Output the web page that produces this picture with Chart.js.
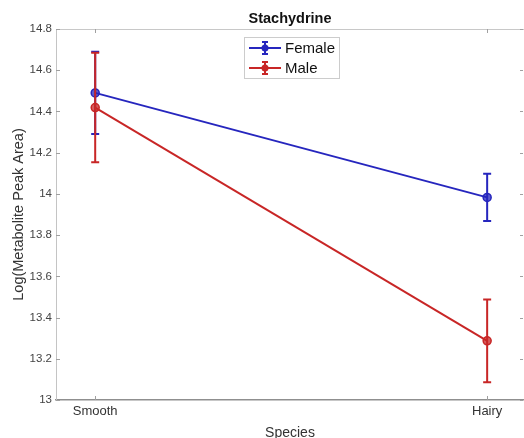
<!DOCTYPE html>
<html>
<head>
<meta charset="utf-8">
<script src="https://cdn.jsdelivr.net/npm/chart.js@4.4.0/dist/chart.umd.min.js"></script>
<style>
  html, body { margin: 0; padding: 0; background: #fff; }
  #wrap { width: 524px; height: 438px; }
</style>
</head>
<body>
<div id="wrap"><canvas id="chart" width="524" height="438"></canvas></div>
<script>
// data
const categories = ["Smooth", "Hairy"];
const catPos = [1, 2];
const femaleMean = [14.49, 13.983];
const femaleErr = [0.20, 0.115];
const maleMean = [14.419, 13.287];
const maleErr = [0.266, 0.201];
const yTicks = [13, 13.2, 13.4, 13.6, 13.8, 14, 14.2, 14.4, 14.6, 14.8];

const BLUE = "rgb(38,38,190)";
const RED = "rgb(200,38,38)";
const FONT = "'Liberation Sans', Arial, sans-serif";

function pts(means){
  return means.map((v, i) => ({x: catPos[i], y: v}));
}

const errPlugin = {
  id: "errbars",
  afterDatasetDraw(chart, args){
    const ds = chart.data.datasets[args.index];
    const ctx = chart.ctx, xs = chart.scales.x, ys = chart.scales.y;
    ctx.save();
    ctx.strokeStyle = ds.borderColor;
    ctx.lineWidth = 2;
    ds.data.forEach((p, i) => {
      const x = xs.getPixelForValue(p.x);
      const y1 = ys.getPixelForValue(p.y + ds.err[i]);
      const y2 = ys.getPixelForValue(p.y - ds.err[i]);
      ctx.beginPath();
      ctx.moveTo(x, y1); ctx.lineTo(x, y2);
      ctx.moveTo(x - 4, y1); ctx.lineTo(x + 4, y1);
      ctx.moveTo(x - 4, y2); ctx.lineTo(x + 4, y2);
      ctx.stroke();
    });
    ctx.restore();
  }
};

const framePlugin = {
  id: "frame",
  afterDraw(chart){
    const ctx = chart.ctx, a = chart.chartArea;
    const xs = chart.scales.x, ys = chart.scales.y;
    ctx.save();
    ctx.strokeStyle = "#c8c8c8";
    ctx.lineWidth = 1;
    ctx.beginPath();
    ctx.moveTo(a.left, a.top + 0.5); ctx.lineTo(a.right, a.top + 0.5);
    ctx.stroke();
    ctx.strokeStyle = "#a0a0a0";
    ctx.beginPath();
    yTicks.forEach(v => {
      const y = Math.round(ys.getPixelForValue(v)) + 0.5;
      ctx.moveTo(a.left, y); ctx.lineTo(a.left + 4, y);
      ctx.moveTo(a.right - 1, y); ctx.lineTo(a.right - 4, y);
    });
    catPos.forEach(v => {
      const x = Math.round(xs.getPixelForValue(v)) + 0.5;
      ctx.moveTo(x, a.bottom); ctx.lineTo(x, a.bottom - 4);
      ctx.moveTo(x, a.top); ctx.lineTo(x, a.top + 4);
    });
    ctx.stroke();

    // legend box
    const lx = 244, ly = 37, lw = 95, lh = 41;
    ctx.fillStyle = "#fff";
    ctx.fillRect(lx, ly, lw, lh);
    ctx.strokeStyle = "#cccccc";
    ctx.strokeRect(lx + 0.5, ly + 0.5, lw, lh);
    const items = [
      {label: "Female", color: BLUE, y: 48},
      {label: "Male", color: RED, y: 68}
    ];
    items.forEach(it => {
      ctx.strokeStyle = it.color;
      ctx.fillStyle = it.color;
      ctx.lineWidth = 2;
      ctx.beginPath();
      ctx.moveTo(249, it.y); ctx.lineTo(281, it.y);
      ctx.moveTo(265, it.y - 6); ctx.lineTo(265, it.y + 6);
      ctx.moveTo(262, it.y - 6); ctx.lineTo(268, it.y - 6);
      ctx.moveTo(262, it.y + 6); ctx.lineTo(268, it.y + 6);
      ctx.stroke();
      ctx.beginPath();
      ctx.arc(265, it.y, 3.5, 0, Math.PI * 2);
      ctx.fill();
      ctx.fillStyle = "#111";
      ctx.font = "15px " + FONT;
      ctx.textBaseline = "middle";
      ctx.textAlign = "left";
      ctx.fillText(it.label, 285, it.y + 1);
    });
    ctx.restore();
  }
};

const ctx = document.getElementById("chart").getContext("2d");
new Chart(ctx, {
  type: "line",
  data: {
    datasets: [
      {
        label: "Female",
        data: pts(femaleMean),
        err: femaleErr,
        borderColor: BLUE,
        backgroundColor: BLUE,
        borderWidth: 2,
        pointRadius: 4,
        pointBorderWidth: 1.5,
        pointBackgroundColor: "rgba(38,38,190,0.75)",
        order: 2
      },
      {
        label: "Male",
        data: pts(maleMean),
        err: maleErr,
        borderColor: RED,
        backgroundColor: RED,
        borderWidth: 2,
        pointRadius: 4,
        pointBorderWidth: 1.5,
        pointBackgroundColor: "rgba(200,38,38,0.75)",
        order: 1
      }
    ]
  },
  options: {
    responsive: false,
    animation: false,
    events: [],
    layout: { autoPadding: false, padding: { top: 0, right: 0, left: 0, bottom: -3.5 } },
    plugins: {
      legend: { display: false },
      tooltip: { enabled: false },
      title: {
        display: true,
        fullSize: false,
        text: "Stachydrine",
        color: "#111",
        font: { family: FONT, size: 14.5, weight: "bold" },
        padding: { top: 10.3, bottom: 1.3 }
      }
    },
    scales: {
      x: {
        type: "linear",
        min: 0.9,
        max: 2.094,
        afterBuildTicks: s => { s.ticks = catPos.map(v => ({value: v})); },
        afterFit: s => { s.height = 41.5; s.paddingLeft = 0; s.paddingRight = 0; },
        grid: { display: false, drawTicks: false },
        border: { display: true, color: "#8f8f8f", width: 1.5 },
        ticks: {
          padding: 4,
          color: "#333",
          font: { family: FONT, size: 13 },
          callback: v => categories[catPos.indexOf(v)] || ""
        },
        title: {
          display: true,
          text: "Species",
          color: "#333",
          font: { family: FONT, size: 14 },
          padding: { top: 0, bottom: 0 }
        }
      },
      y: {
        min: 13,
        max: 14.8,
        afterBuildTicks: s => { s.ticks = yTicks.map(v => ({value: v})); },
        afterFit: s => { s.width = 56; },
        grid: { display: false, drawTicks: false },
        border: { display: true, color: "#c4c4c4", width: 1 },
        ticks: {
          padding: 4,
          color: "#444",
          font: { family: FONT, size: 11.5 },
          callback: v => String(Math.round(v * 10) / 10)
        },
        title: {
          display: true,
          text: "Log(Metabolite Peak Area)",
          color: "#333",
          font: { family: FONT, size: 14.5 },
          padding: { top: 10.5, bottom: 0 }
        }
      }
    }
  },
  plugins: [errPlugin, framePlugin]
});
</script>
</body>
</html>
